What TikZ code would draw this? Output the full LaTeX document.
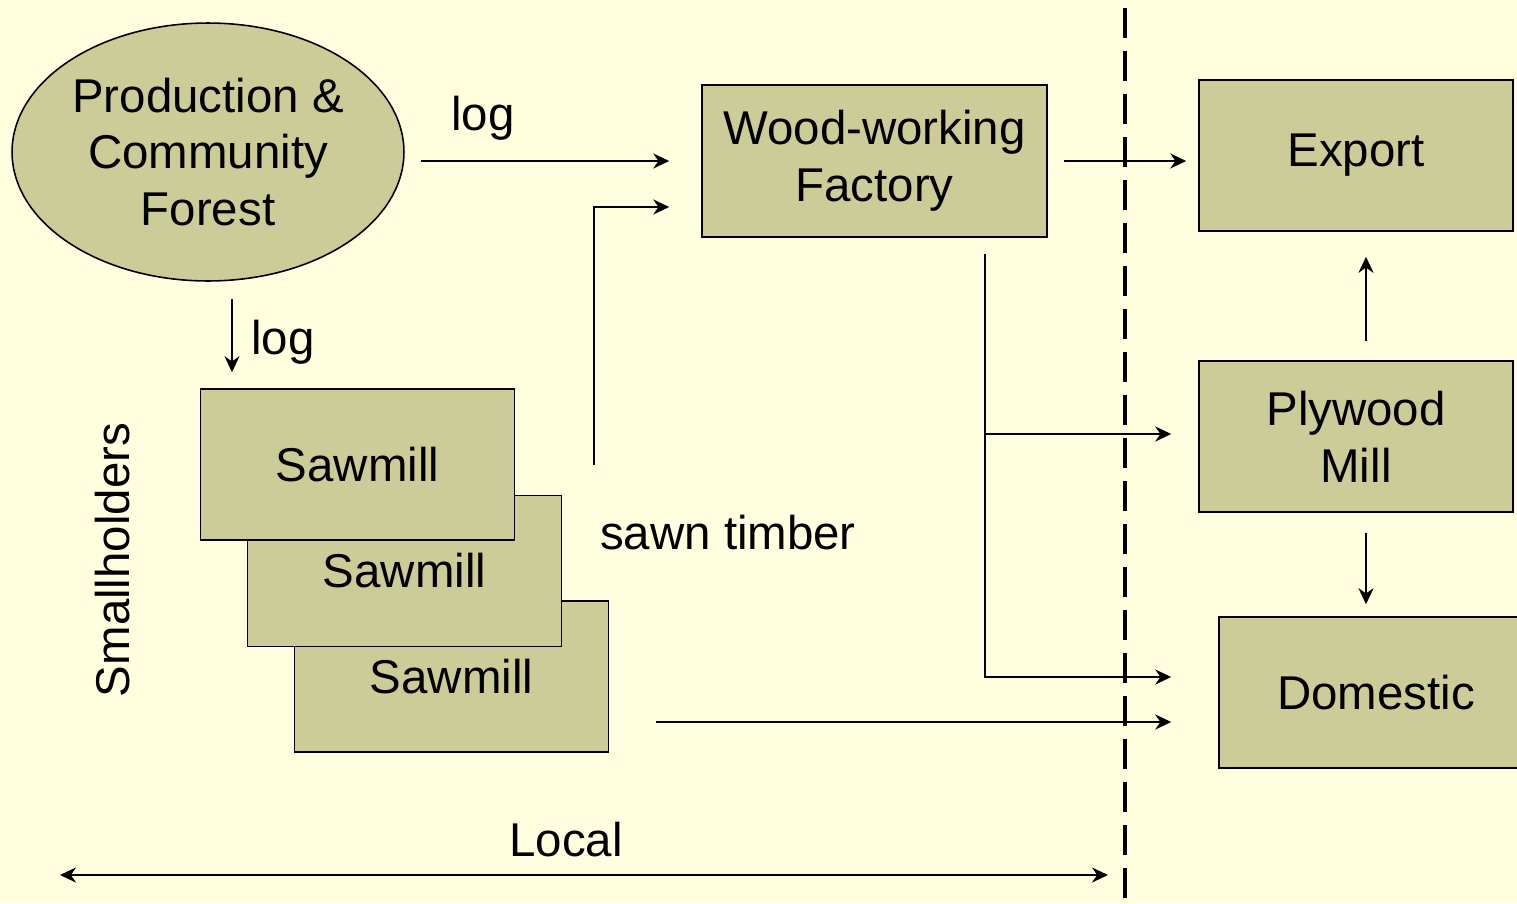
\documentclass[tikz,border=0pt]{standalone}
\usepackage{fontspec}
\setmainfont{Liberation Sans}
\usetikzlibrary{arrows.meta,positioning,shapes.geometric}
\definecolor{bgyellow}{RGB}{255,255,224}
\definecolor{olivefill}{RGB}{204,204,153}
\tikzset{
  %Define standard arrow tip
  >={Stealth[length=0.32cm,width=0.3cm]},
  %Define style for boxes
  kasse/.style={
    rectangle,
    draw=black, line width=0.9pt,
    fill=olivefill,
    minimum width=6.28cm,
    minimum height=3.02cm,
    align=center},
  % Define arrow style
  pil/.style={
    ->,
    line width=1.4pt},
  tekst/.style={font=\fontsize{27}{32.4}\selectfont}
}
\begin{document}
\begin{tikzpicture}[x=0.02cm,y=-0.02cm,every node/.style={tekst}]
  \fill[bgyellow] (0,0) rectangle (1517,903);
  \useasboundingbox (0,0) rectangle (1517,903);
  \clip (0,0) rectangle (1517,903);
  % forest and factory
  \node[ellipse,draw=black,line width=0.9pt,fill=olivefill,minimum width=7.84cm,
    minimum height=5.16cm,align=center,inner sep=0pt] (forest) at (208,152)
    {Production \&\\Community\\Forest};
  \node[kasse,minimum width=6.9cm,minimum height=3.04cm] (factory) at (874.5,161) {Wood-working\\Factory};
  % export side
  \node[kasse] (export) at (1356,155.5) {Export};
  \node[kasse] (plywood) at (1356,436.5) {Plywood\\Mill};
  \node[kasse] (domestic) at (1376,692.5) {Domestic};
  % sawmills, back to front
  \node[kasse] (saw3) at (451.5,676.5) {Sawmill};
  \node[kasse] (saw2) at (404.5,571) {Sawmill};
  \node[kasse] (saw1) at (357.5,464.5) {Sawmill};
  \node[rotate=90] (small) at (113,560) {Smallholders};
  % border between local and export
  \coordinate (grenseTop) at (1125,8);
  \coordinate (grenseBund) at (1125,903);
  \draw[line width=2.3pt,dash pattern=on 0.6cm off 0.26cm] (grenseTop) -- (grenseBund);
  % arrows
  \draw[pil,shorten <=0.32cm,shorten >=0.64cm] (forest.east |- factory.west) -- (factory.west);
  \node (logA) at (483,118) {log};
  \draw[pil,shorten <=0.32cm,shorten >=0.24cm] (factory.east) -- (factory.east -| export.west);
  \draw[pil,shorten <=0.34cm,shorten >=0.32cm] ([xshift=0.48cm]forest.south) -- ([xshift=0.48cm]forest.south |- saw1.north);
  \node (logB) at (283,342) {log};
  \draw[pil,shorten >=0.64cm] ([xshift=1.58cm]saw1.east) |- ([yshift=-0.92cm]factory.west);
  \node (sawn) at (728,533) {sawn timber};
  \draw[pil,shorten >=0.54cm] ([xshift=2.21cm,yshift=-0.32cm]factory.south) |- ([yshift=0.05cm]plywood.west);
  \draw[pil,shorten >=0.94cm] ([xshift=2.21cm,yshift=-0.32cm]factory.south) |- ([yshift=0.31cm]domestic.west);
  \draw[pil,shorten <=0.94cm,shorten >=0.94cm] ([yshift=-0.91cm]saw3.east) -- ([yshift=-0.91cm]saw3.east -| domestic.west);
  \draw[pil,shorten <=0.38cm,shorten >=0.5cm] ([xshift=0.2cm]plywood.north) -- ([xshift=0.2cm]plywood.north |- export.south);
  \draw[pil,shorten <=0.4cm,shorten >=0.24cm] ([xshift=0.2cm]plywood.south) -- ([xshift=0.2cm]plywood.south |- domestic.north);
  % local
  \coordinate (lokalV) at (60,875);
  \coordinate (lokalH) at (1108,875);
  \draw[pil,<->] (lokalV) -- (lokalH);
  \node (local) at (566,840) {Local};
\end{tikzpicture}
\end{document}
